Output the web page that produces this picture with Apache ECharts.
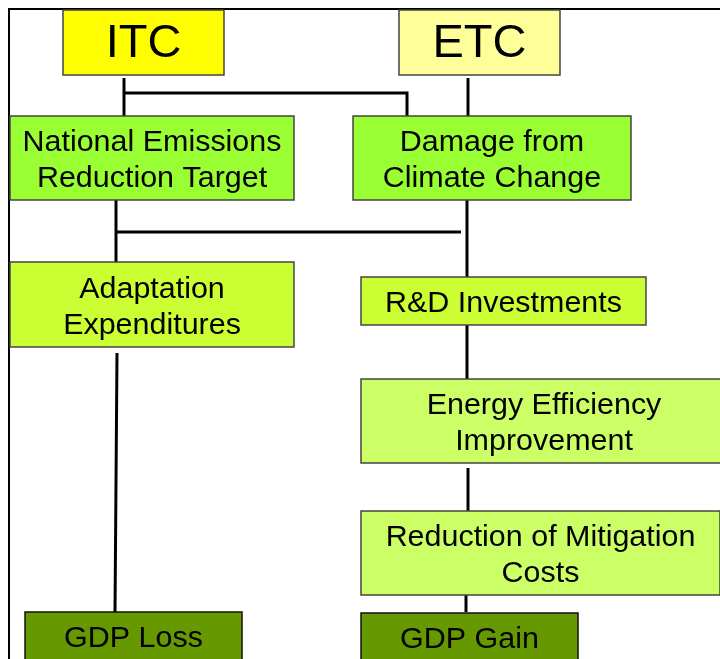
<!DOCTYPE html>
<html>
<head>
<meta charset="utf-8">
<script src="https://cdn.jsdelivr.net/npm/echarts@6/dist/echarts.min.js"></script>
<style>
  html, body { margin: 0; padding: 0; background: #fff; }
  #main { width: 720px; height: 659px; }
</style>
</head>
<body>
<div id="main"></div>
<script>
// box texts and fills
const boxLabels = [
    'ITC',
    'ETC',
    'National Emissions\nReduction Target',
    'Damage from\nClimate Change',
    'Adaptation\nExpenditures',
    'R&D Investments',
    'Energy Efficiency\nImprovement',
    'Reduction of Mitigation\nCosts',
    'GDP Loss',
    'GDP Gain'
];
const boxFills = ['#ffff00', '#ffff99', '#99ff33', '#99ff33', '#ccff33', '#ccff33', '#ccff66', '#ccff66', '#669900', '#669900'];

// layout of the boxes, in page units (0..720 x 0..659)
const boxLeft = [63, 399, 10, 353, 10, 361, 361, 361, 25, 361];
const boxTop = [10, 10, 116, 116, 262, 277, 379, 511, 612, 613];
const boxRight = [224, 560, 294, 631, 294, 646, 727, 720, 242, 578];
const boxBottom = [75, 75, 200, 200, 347, 325, 463, 595, 660, 660];

// connector polylines
const links = [
    [[124, 78], [124, 116]],
    [[124, 93], [407, 93], [407, 116]],
    [[468, 78], [468, 116]],
    [[116, 200], [116, 262]],
    [[116, 232], [461, 232]],
    [[467, 197], [467, 277]],
    [[467, 321], [467, 379]],
    [[468, 468], [468, 511]],
    [[466, 591], [466, 612]],
    [[117, 353], [115, 612]]
];
const frame = [[[720, 9], [9, 9], [9, 659]]];

const fontFamily = '"Liberation Sans", Arial, sans-serif';

let chart = echarts.init(document.getElementById('main'));

let boxData = boxLabels.map(function (t, i) {
    return [boxLeft[i], boxTop[i], boxRight[i], boxBottom[i], i];
});

chart.setOption({
    animation: false,
    grid: { left: 0, right: 0, top: 0, bottom: 0 },
    xAxis: { type: 'value', min: 0, max: 720, show: false },
    yAxis: { type: 'value', min: 0, max: 659, inverse: true, show: false },
    series: [
        {
            type: 'lines',
            coordinateSystem: 'cartesian2d',
            polyline: true,
            z: 1,
            lineStyle: { color: '#000', width: 2, opacity: 1 },
            data: frame.map(function (c) { return { coords: c }; })
        },
        {
            type: 'lines',
            coordinateSystem: 'cartesian2d',
            polyline: true,
            z: 2,
            lineStyle: { color: '#000', width: 3, opacity: 1 },
            data: links.map(function (c) { return { coords: c }; })
        },
        {
            type: 'custom',
            z: 3,
            data: boxData,
            renderItem: function (params, api) {
                let i = api.value(4);
                let p0 = api.coord([api.value(0), api.value(1)]);
                let p1 = api.coord([api.value(2), api.value(3)]);
                let big = i < 2;
                let dark = i >= 8;
                return {
                    type: 'group',
                    children: [
                        {
                            type: 'rect',
                            shape: { x: p0[0], y: p0[1], width: p1[0] - p0[0], height: p1[1] - p0[1] },
                            style: { fill: boxFills[i], stroke: dark ? '#111' : '#444', lineWidth: 1.5 }
                        },
                        {
                            type: 'text',
                            x: (p0[0] + p1[0]) / 2,
                            y: (p0[1] + p1[1]) / 2 + (big ? 2 : 3),
                            scaleX: big ? 1 : 1.05,
                            style: {
                                text: boxLabels[i],
                                align: 'center',
                                verticalAlign: 'middle',
                                fontSize: big ? 47 : 29,
                                lineHeight: big ? 50 : 36,
                                fontFamily: fontFamily,
                                fill: '#000'
                            }
                        }
                    ]
                };
            }
        }
    ]
});
</script>
</body>
</html>
